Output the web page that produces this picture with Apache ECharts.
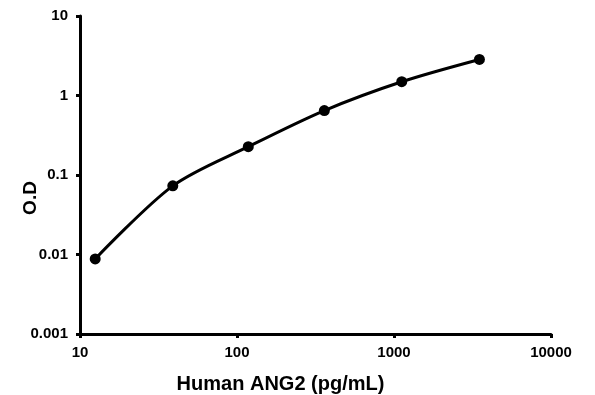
<!DOCTYPE html>
<html><head><meta charset="utf-8">
<script src="https://cdn.jsdelivr.net/npm/echarts@6/dist/echarts.min.js"></script>
<style>html,body{margin:0;padding:0;background:#fff}#c{width:595px;height:395px}</style>
</head><body><div id="c"></div>
<script>
const concentrations = [12.5, 39, 118, 360, 1120, 3500];
const odValues = [0.0088, 0.073, 0.227, 0.647, 1.49, 2.84];
const xTickLabels = ['10', '100', '1000', '10000'];
const yTickLabels = ['0.001', '0.01', '0.1', '1', '10'];

const fmt = (labels) => (v) => {
  const e = Math.round(Math.log10(v));
  for (const l of labels) { if (Math.round(Math.log10(parseFloat(l))) === e) return l; }
  return '';
};
const font = 'Liberation Sans, Arial, sans-serif';
const chart = echarts.init(document.getElementById('c'));
chart.setOption({
  animation: false,
  backgroundColor: '#fff',
  grid: { left: 80, right: 44, top: 16, bottom: 61, containLabel: false, outerBoundsMode: 'none' },
  xAxis: {
    type: 'log', logBase: 10, min: 10, max: 10000,
    name: 'Human ANG2 (pg/mL)', nameLocation: 'middle', nameGap: 40,
    nameTextStyle: { fontFamily: font, fontWeight: 'bold', fontSize: 20, color: '#000', padding: [0, 70, 0, 0] },
    axisLine: { lineStyle: { color: '#000', width: 3 } },
    axisTick: { show: true, length: 4, lineStyle: { color: '#000', width: 3 } },
    minorTick: { show: false },
    splitLine: { show: false },
    axisLabel: { formatter: fmt(xTickLabels), fontFamily: font, fontWeight: 'bold', fontSize: 15, color: '#000', margin: 11 }
  },
  yAxis: {
    type: 'log', logBase: 10, min: 0.001, max: 10,
    name: 'O.D', nameLocation: 'middle', nameGap: 40, nameRotate: 90, nameMoveOverlap: false,
    nameTextStyle: { fontFamily: font, fontWeight: 'bold', fontSize: 19, color: '#000', padding: [0, 46, 0, 0] },
    axisLine: { lineStyle: { color: '#000', width: 3 } },
    axisTick: { show: true, length: 4, lineStyle: { color: '#000', width: 3 } },
    splitLine: { show: false },
    axisLabel: { formatter: fmt(yTickLabels), fontFamily: font, fontWeight: 'bold', fontSize: 15, color: '#000', margin: 12 }
  },
  series: [{
    type: 'line',
    data: concentrations.map((x, i) => [x, odValues[i]]),
    smooth: 0.3,
    symbol: 'circle', symbolSize: 11,
    itemStyle: { color: '#000' },
    lineStyle: { color: '#000', width: 3 }
  }]
});
</script></body></html>
